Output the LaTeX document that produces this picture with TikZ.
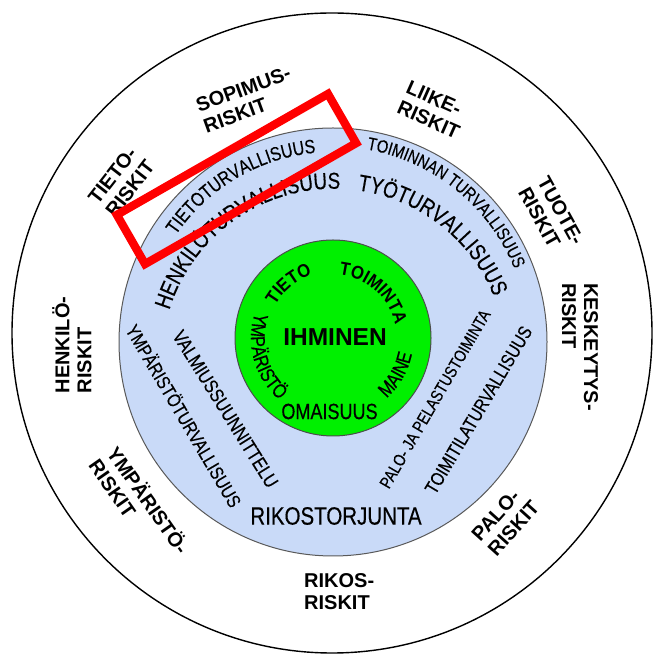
\documentclass[tikz,border=0pt]{standalone}
\usepackage{fontspec}
\setmainfont{Liberation Sans}
\newfontfamily\narrowfont[FakeStretch=0.82,FakeBold=0.35]{Liberation Sans}
\newfontfamily\nboldfont[FakeStretch=0.9]{Liberation Sans}
\usetikzlibrary{decorations.text}
\definecolor{ringblue}{RGB}{201,218,248}
\definecolor{coregreen}{RGB}{0,240,0}
\newcommand\fHenk{\narrowfont\fontsize{23}{23}\selectfont}
\newcommand\fTieto{\narrowfont\fontsize{19.5}{20}\selectfont}
\newcommand\fToim{\narrowfont\fontsize{18}{20}\selectfont}
\newcommand\fCoreB{\nboldfont\bfseries\fontsize{18.5}{20}\selectfont}
\newcommand\fCoreN{\narrowfont\fontsize{20}{20}\selectfont}
\tikzset{
  lbl/.style={font=\bfseries\fontsize{20}{22}\selectfont, align=left, anchor=west, inner sep=0pt},
  ntext/.style={inner sep=0pt, font=\narrowfont\fontsize{#1}{#1}\selectfont},
  disc/.style={circle, inner sep=0pt, line width=1pt}
}
\begin{document}
\begin{tikzpicture}[x=1pt,y=1pt]
\useasboundingbox (0,0) rectangle (653,655);
\fill[white] (0,0) rectangle (653,655);
% circles
\node[disc, draw=black, line width=1.4pt, minimum size=640pt] (outer) at (332,322) {};
\node[disc, draw=black!65, fill=ringblue, minimum size=428pt] (ring) at (333,313) {};
\node[disc, draw=black!70, fill=coregreen, minimum size=196pt] (core) at (333,317) {};

% outer risk labels
\node[lbl, rotate=20] (sopimus) at (200.4,538.6) {SOPIMUS-\\RISKIT};
\node[lbl, rotate=-24] (liike) at (403,558.6) {LIIKE-\\RISKIT};
\node[lbl, rotate=52] (tietor) at (101,447) {TIETO-\\RISKIT};
\node[lbl, rotate=-61] (tuote) at (533.1,471.6) {TUOTE-\\RISKIT};
\node[lbl, rotate=90] (henkilo) at (72,261.5) {HENKILÖ-\\RISKIT};
\node[lbl, rotate=-90] (keskeytys) at (580,372) {KESKEYTYS-\\RISKIT};
\node[lbl, rotate=-55] (ymparisto) at (103.7,200.5) {YMPÄRISTÖ-\\RISKIT};
\node[lbl, rotate=48] (palor) at (483.3,109.5) {PALO-\\RISKIT};
\node[lbl] (rikos) at (304,63.5) {RIKOS-\\RISKIT};

% curved texts in the blue ring
\path[shift={(334,294)}, decorate, decoration={text along path, text align=center,
  text={|\fHenk|HENKILÖTURVALLISUUS}}]
  (195.4:172.3pt) arc[start angle=195.4, end angle=55.4, radius=172.3pt];
\path[shift={(334,294)}, decorate, decoration={text along path, text align=center,
  text={|\fHenk|TYÖTURVALLISUUS}}]
  (112:172.3pt) arc[start angle=112, end angle=-8, radius=172.3pt];
\path[shift={(333,313)}, decorate, decoration={text along path, text align=center,
  text={|\fTieto|TIETOTURVALLISUUS}}]
  (170.5:190pt) arc[start angle=170.5, end angle=70.5, radius=190pt];
\path[shift={(333,313)}, decorate, decoration={text along path, text align=center,
  text={|\fToim|TOIMINNAN TURVALLISUUS}}]
  (111:195.5pt) arc[start angle=111, end angle=-9, radius=195.5pt];

% straight texts in the blue ring
\node[ntext=19, rotate=-59.5] (ymptur) at (184.5,239.5) {YMPÄRISTÖTURVALLISUUS};
\node[ntext=19.5, rotate=-58] (valmius) at (225.5,246) {VALMIUSSUUNNITTELU};
\node[ntext=17, rotate=59.8] (palo) at (435,256) {PALO- JA PELASTUSTOIMINTA};
\node[ntext=19, rotate=59.3] (toimitila) at (478.5,245) {TOIMITILATURVALLISUUS};
\node[ntext=25] (rikost) at (336,139) {RIKOSTORJUNTA};

% green core
\node[inner sep=0pt, font=\bfseries\fontsize{24.5}{25}\selectfont] (ihminen) at (335,318) {IHMINEN};
\node[ntext=22] (omaisuus) at (329.5,243.5) {OMAISUUS};
\path[shift={(333,317)}, decorate, decoration={text along path, text align=center,
  text={|\fCoreB|TIETO}}]
  (199.3:66.5pt) arc[start angle=199.3, end angle=59.3, radius=66.5pt];
\path[shift={(333,317)}, decorate, decoration={text along path, text align=center,
  text={|\fCoreB|TOIMINTA}}]
  (128.1:63.5pt) arc[start angle=128.1, end angle=-31.9, radius=63.5pt];
\path[shift={(333,317)}, decorate, decoration={text along path, text align=center,
  text={|\fCoreN|MAINE}}]
  (-99.9:80.5pt) arc[start angle=-99.9, end angle=40.1, radius=80.5pt];
\path[shift={(333,317)}, decorate, decoration={text along path, text align=center,
  text={|\fCoreN|YMPÄRISTÖ}}]
  (125.5:82pt) arc[start angle=125.5, end angle=265.5, radius=82pt];

% red highlight box
\node[draw=red, line width=8.3pt, minimum width=243.3pt, minimum height=56.7pt,
  inner sep=0pt, rotate=29.8] (redbox) at (236.5,476) {};
\end{tikzpicture}
\end{document}
